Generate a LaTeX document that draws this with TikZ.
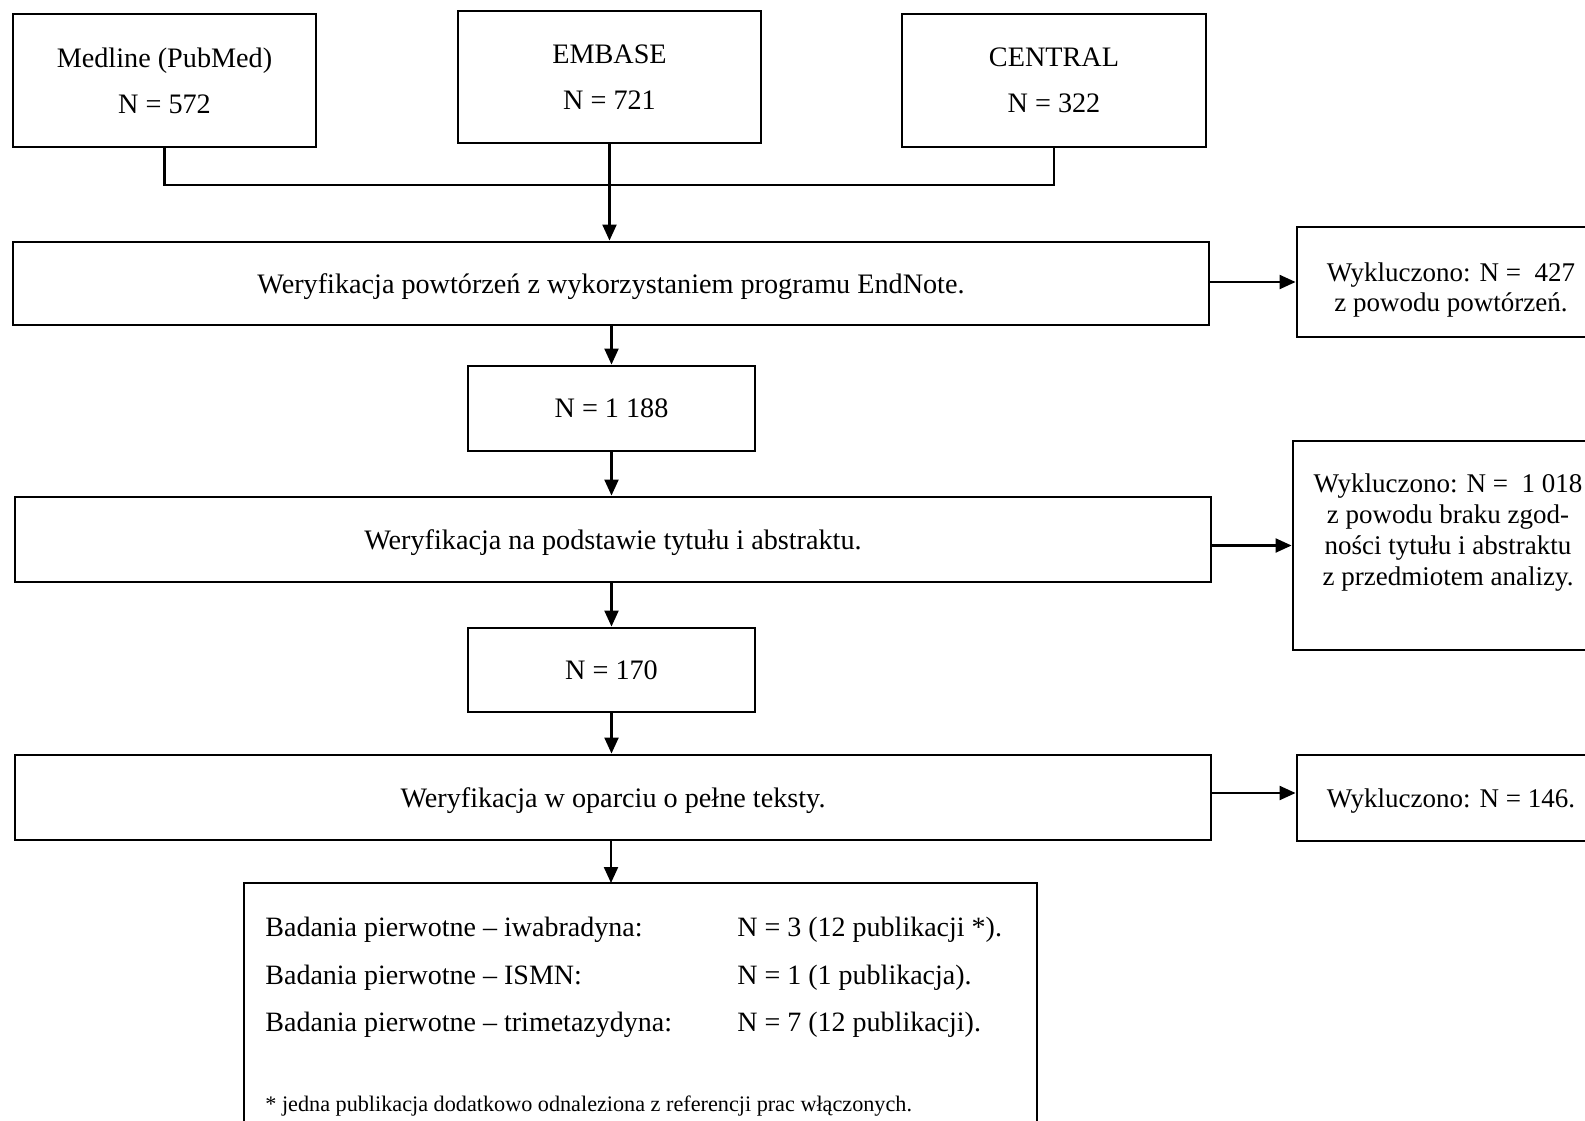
\documentclass[tikz,border=0pt]{standalone}
\usepackage{fontspec}
\setmainfont{Liberation Serif}
\usetikzlibrary{arrows.meta}
\begin{document}
\begin{tikzpicture}[x=0.5pt,y=-0.5pt,
  box/.style={draw, line width=1.45pt, inner sep=0pt, align=center, text depth=0pt, font=\fontsize{14.1}{23}\selectfont},
  exbox/.style={box, font=\fontsize{13.5}{16}\selectfont},
  txt/.style={inner sep=0pt, font=\fontsize{14}{17}\selectfont},
  conn/.style={line width=1.1pt},
  arr/.style={conn, -{Triangle[length=8pt,width=7pt]}}]
\useasboundingbox (0,0) rectangle (1585,1120);
\clip (0,0) rectangle (1585,1120);
\fill[white] (0,0) rectangle (1585,1120);
% top sources
\node[box, minimum width=151.5pt, minimum height=66.5pt] (med) at (164.5,80.5) {Medline (PubMed)\\N = 572};
\node[box, minimum width=151.5pt, minimum height=66pt] (emb) at (609.5,77) {EMBASE\\N = 721};
\node[box, minimum width=152pt, minimum height=66.5pt] (cen) at (1054,80.5) {CENTRAL\\N = 322};
% main column
\node[box, minimum width=598pt, minimum height=41.5pt] (ver1) at (611,283.5) {Weryfikacja powtórzeń z wykorzystaniem programu EndNote.};
\node[box, minimum width=143.5pt, minimum height=42.5pt] (n1) at (611.5,408.5) {N = 1 188};
\node[box, minimum width=598pt, minimum height=42.5pt] (ver2) at (613,539.5) {Weryfikacja na podstawie tytułu i abstraktu.};
\node[box, minimum width=143.5pt, minimum height=42pt] (n2) at (611.5,670) {N = 170};
\node[box, minimum width=598pt, minimum height=42.5pt] (ver3) at (613,797.5) {Weryfikacja w oparciu o pełne teksty.};
% exclusions
\node[exbox, minimum width=154pt, minimum height=55pt] (ex1) at (1451,282) {};
\node[txt, align=center, font=\fontsize{13.5}{15}\selectfont] (ex1t) at (1451,290) {Wykluczono: N = \ 427\\z powodu powtórzeń.};
\node[exbox, minimum width=155pt, minimum height=104.5pt] (ex2) at (1448,545.5) {};
\node[txt, align=center, font=\fontsize{13.5}{15.5}\selectfont] (ex2t) at (1448,533) {Wykluczono: N = \ 1 018\\z powodu braku zgod-\\ności tytułu i abstraktu\\z przedmiotem analizy.};
\node[exbox, minimum width=154pt, minimum height=43pt] (ex3) at (1451,798) {Wykluczono: N = 146.};
% result
\node[box, minimum width=396.5pt, minimum height=126pt] (res) at (640.5,1009) {};
\node[txt, anchor=west] (r1a) at (265,930) {Badania pierwotne – iwabradyna:};
\node[txt, anchor=west] (r1b) at (737,930) {N = 3 (12 publikacji *).};
\node[txt, anchor=west] (r2a) at (265,978) {Badania pierwotne – ISMN:};
\node[txt, anchor=west] (r2b) at (737,978) {N = 1 (1 publikacja).};
\node[txt, anchor=west] (r3a) at (265,1025) {Badania pierwotne – trimetazydyna:};
\node[txt, anchor=west] (r3b) at (737,1025) {N = 7 (12 publikacji).};
\node[txt, anchor=west, font=\fontsize{11.1}{13}\selectfont] (fn) at (265,1106) {* jedna publikacja dodatkowo odnaleziona z referencji prac włączonych.};
% connectors
\coordinate (j) at (610,185);
\coordinate (r0) at (611,883);
\draw[conn] (med.south) |- (j) -| (cen.south);
\draw[arr] (emb.south) -- (emb.south |- ver1.north);
\draw[arr] (ver1.south -| n1.south) -- (n1.north);
\draw[arr] (n1.south) -- (n1.south |- ver2.north);
\draw[arr] (ver2.south -| n2.north) -- (n2.north);
\draw[arr] (n2.south) -- (n2.south |- ver3.north);
\draw[arr] (ver3.south -| r0) -- (r0);
\draw[arr] (ver1.east |- ex1.west) -- (ex1.west);
\draw[arr] (ver2.east |- ex2.west) -- (ex2.west);
\draw[arr] (ver3.east |- 0,793) -- (ex3.west |- 0,793);
\end{tikzpicture}
\end{document}
